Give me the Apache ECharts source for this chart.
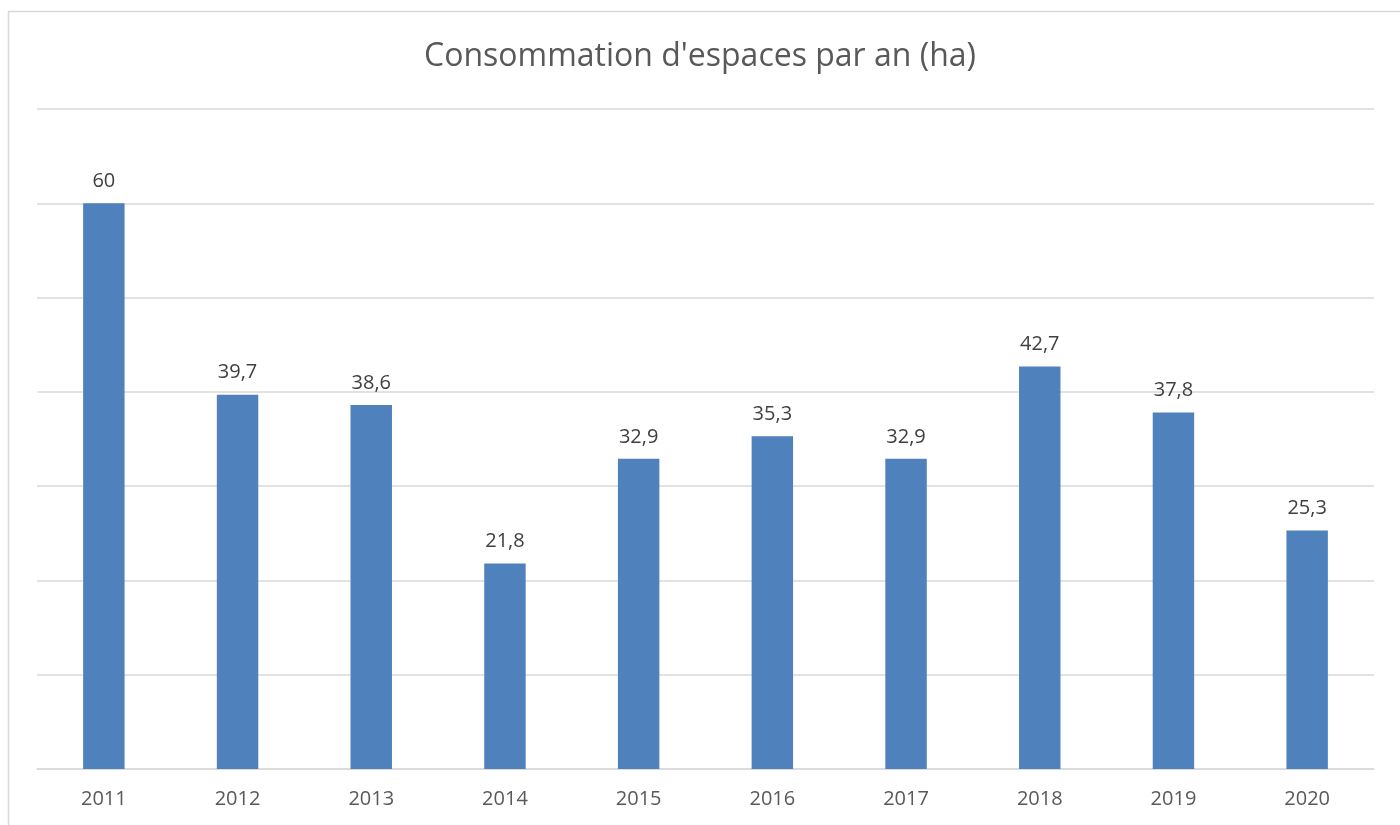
<!DOCTYPE html>
<html><head><meta charset="utf-8">
<script src="https://cdn.jsdelivr.net/npm/echarts@6/dist/echarts.min.js"></script>
<style>html,body{margin:0;padding:0;background:#fff}#c{width:1400px;height:825px}</style>
</head><body><div id="c"></div>
<script>
const categories = ['2011','2012','2013','2014','2015','2016','2017','2018','2019','2020'];
const values = [60, 39.7, 38.6, 21.8, 32.9, 35.3, 32.9, 42.7, 37.8, 25.3];
const titleText = "Consommation d'espaces par an (ha)";

const chart = echarts.init(document.getElementById('c'), null, {renderer:'canvas'});
chart.setOption({
  backgroundColor:'#fff',
  animation:false,
  graphic:[{type:'rect',shape:{x:8.5,y:11.5,width:1500,height:900},style:{fill:'none',stroke:'#d9d9d9',lineWidth:1.5},silent:true}],
  title:{text:titleText,left:'center',top:36,textStyle:{fontFamily:'Open Sans',fontSize:32,fontWeight:'normal',color:'#595959'}},
  grid:{left:37,right:26,top:109,bottom:56,containLabel:false},
  xAxis:{type:'category',data:categories,axisLine:{lineStyle:{color:'#d9d9d9',width:1.5}},axisTick:{show:false},
    axisLabel:{color:'#595959',fontFamily:'Open Sans',fontSize:20,margin:20}},
  yAxis:{type:'value',min:0,max:70,interval:10,axisLabel:{show:false},axisLine:{show:false},axisTick:{show:false},
    splitLine:{lineStyle:{color:'#d9d9d9',width:1.5}}},
  series:[{type:'bar',data:values,barWidth:'31%',itemStyle:{color:'#4f81bd'},
    label:{show:true,position:'top',distance:12,color:'#404040',fontFamily:'Open Sans',fontSize:20,
      formatter:p=>String(p.value).replace('.',',')}}]
});
</script></body></html>
